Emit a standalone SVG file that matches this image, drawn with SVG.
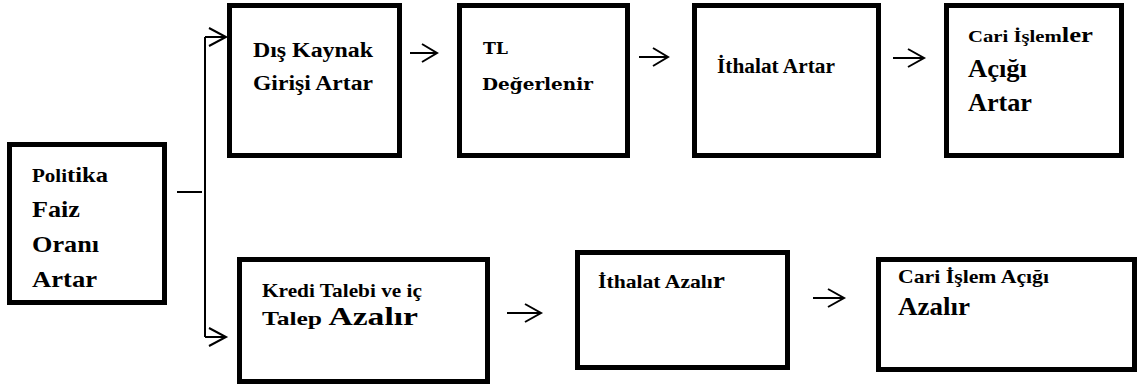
<svg xmlns="http://www.w3.org/2000/svg" width="1144" height="387" viewBox="0 0 1144 387">
<style>
.box{fill:#fff;stroke:#000;stroke-width:5}
.ln{fill:none;stroke:#000;stroke-width:2}
.ar{fill:none;stroke:#000;stroke-width:2;stroke-linejoin:miter}
text{font-family:"Liberation Serif","Times New Roman",serif;font-weight:bold;fill:#000}
.c{font-family:"DejaVu Serif",serif}
</style>
<rect width="1144" height="387" fill="#fff"/>
<g id="connectors">
<line class="ln" x1="177" y1="192" x2="202" y2="192"/>
<line class="ln" x1="205" y1="37" x2="205" y2="337"/>
<line class="ln" x1="205" y1="37" x2="226" y2="37"/>
<polyline class="ar" points="209,28 226,37 209,46"/>
<line class="ln" x1="205" y1="337" x2="226" y2="337"/>
<polyline class="ar" points="209,328 226,337 209,346"/>
<line class="ln" x1="410" y1="53" x2="437" y2="53"/>
<polyline class="ar" points="422,44 437,53 422,62"/>
<line class="ln" x1="639" y1="57" x2="668" y2="57"/>
<polyline class="ar" points="653,48 668,57 653,66"/>
<line class="ln" x1="893" y1="58" x2="924" y2="58"/>
<polyline class="ar" points="908,49 924,58 908,67"/>
<line class="ln" x1="507" y1="313" x2="541" y2="313"/>
<polyline class="ar" points="525,304 541,313 525,322"/>
<line class="ln" x1="813" y1="298" x2="844" y2="298"/>
<polyline class="ar" points="828,289 844,298 828,307"/>
</g>
<g id="n-politika">
<rect class="box" x="9.5" y="144.5" width="155" height="158"/>
<text x="32" y="182" textLength="76" lengthAdjust="spacingAndGlyphs"><tspan font-size="18">Poli</tspan><tspan font-size="21">tika</tspan></text>
<text x="32" y="217" font-size="23" textLength="48" lengthAdjust="spacingAndGlyphs">Faiz</text>
<text x="32" y="252" font-size="23" textLength="67" lengthAdjust="spacingAndGlyphs">Oranı</text>
<text x="32" y="287" font-size="23" textLength="65" lengthAdjust="spacingAndGlyphs">Artar</text>
</g>
<g id="n-dis-kaynak">
<rect class="box" x="229.5" y="5.5" width="170" height="150"/>
<text x="253" y="57" font-size="20" textLength="120" lengthAdjust="spacingAndGlyphs">Dış Kaynak</text>
<text x="253" y="90" font-size="20" textLength="120" lengthAdjust="spacingAndGlyphs">Girişi Artar</text>
</g>
<g id="n-tl">
<rect class="box" x="459.5" y="5.5" width="168" height="150"/>
<text class="c" x="483" y="54" font-size="16" textLength="25" lengthAdjust="spacingAndGlyphs">TL</text>
<text class="c" x="482" y="90" font-size="17" textLength="111" lengthAdjust="spacingAndGlyphs">Değerlenir</text>
</g>
<g id="n-ithalat-artar">
<rect class="box" x="694.5" y="5.5" width="184" height="150"/>
<text x="717" y="73" font-size="20" textLength="118" lengthAdjust="spacingAndGlyphs">İthalat Artar</text>
</g>
<g id="n-cari-artar">
<rect class="box" x="946.5" y="5.5" width="175" height="150"/>
<text x="968" y="42" textLength="125" lengthAdjust="spacingAndGlyphs"><tspan font-size="17">Cari İşlem</tspan><tspan font-size="22">ler</tspan></text>
<text x="968" y="77" font-size="25" textLength="59" lengthAdjust="spacingAndGlyphs">Açığı</text>
<text x="968" y="111" font-size="25" textLength="64" lengthAdjust="spacingAndGlyphs">Artar</text>
</g>
<g id="n-kredi">
<rect class="box" x="239.5" y="259.5" width="248" height="122"/>
<text x="262" y="297" font-size="19" textLength="160" lengthAdjust="spacingAndGlyphs">Kredi Talebi ve iç</text>
<text x="262" y="325" textLength="156" lengthAdjust="spacingAndGlyphs"><tspan font-size="19">Talep </tspan><tspan font-size="25">Azalır</tspan></text>
</g>
<g id="n-ithalat-azalir">
<rect class="box" x="577.5" y="252.5" width="210" height="115"/>
<text x="598" y="288" textLength="127" lengthAdjust="spacingAndGlyphs"><tspan font-size="19">İthalat Azalı</tspan><tspan font-size="24">r</tspan></text>
</g>
<g id="n-cari-azalir">
<rect class="box" x="878.5" y="259.5" width="256" height="110"/>
<text x="898" y="283" font-size="19" textLength="151" lengthAdjust="spacingAndGlyphs">Cari İşlem Açığı</text>
<text x="898" y="315" font-size="25" textLength="72" lengthAdjust="spacingAndGlyphs">Azalır</text>
</g>
</svg>
